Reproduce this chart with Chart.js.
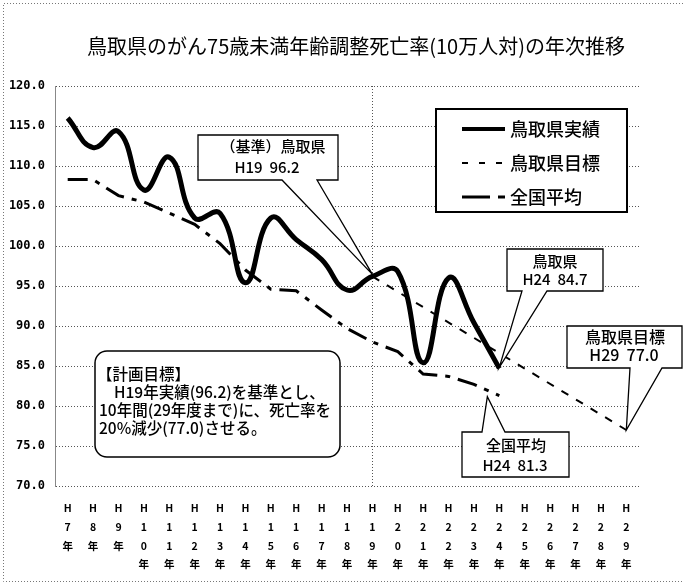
<!DOCTYPE html>
<html><head><meta charset="utf-8">
<script src="https://cdn.jsdelivr.net/npm/chart.js@4"></script>
<style>html,body{margin:0;padding:0;background:#fff}#wrap{width:683px;height:587px;position:relative}</style>
</head><body><div id="wrap"><canvas id="c" width="683" height="587"></canvas></div>
<script>
// ---- data ----
const yearNums = [7,8,9,10,11,12,13,14,15,16,17,18,19,20,21,22,23,24,25,26,27,28,29];
const actual   = [116.0,112.3,114.3,107.0,111.1,103.5,104.1,95.4,103.5,100.8,98.3,94.5,96.2,96.8,85.4,96.0,90.4,84.7,null,null,null,null,null];
const target   = [null,null,null,null,null,null,null,null,null,null,null,null,96.2,null,null,null,null,null,null,null,null,null,77.0];
const national = [108.3,108.3,106.3,105.5,104.1,102.7,100.3,97.0,94.6,94.4,92.0,89.7,88.0,86.8,84.0,83.7,82.7,81.3,null,null,null,null,null];
const yTicks = [70,75,80,85,90,95,100,105,110,115,120];
const title = '鳥取県のがん75歳未満年齢調整死亡率(10万人対)の年次推移';
const seriesNames = ['鳥取県実績','鳥取県目標','全国平均'];

const labels = yearNums.map(n => ['H', ...String(n).split(''), '年']);
const JP = '"Noto Sans CJK JP", "Noto Sans", sans-serif';

function calloutPath(ctx, b, side, b1, b2, tip) {
  const x0=b.x, y0=b.y, x1=b.x+b.w, y1=b.y+b.h;
  ctx.beginPath();
  if (side === 'bottom') {
    ctx.moveTo(x0,y0); ctx.lineTo(x1,y0); ctx.lineTo(x1,y1);
    ctx.lineTo(b2,y1); ctx.lineTo(tip.x,tip.y); ctx.lineTo(b1,y1); ctx.lineTo(x0,y1);
  } else {
    ctx.moveTo(x0,y0); ctx.lineTo(b1,y0); ctx.lineTo(tip.x,tip.y); ctx.lineTo(b2,y0);
    ctx.lineTo(x1,y0); ctx.lineTo(x1,y1); ctx.lineTo(x0,y1);
  }
  ctx.closePath();
  ctx.fillStyle = '#fff'; ctx.fill();
  ctx.strokeStyle = '#000'; ctx.lineWidth = 1.3; ctx.setLineDash([]); ctx.stroke();
}
function texts(ctx, items, font, align) {
  ctx.fillStyle = '#000'; ctx.font = font; ctx.textAlign = align || 'center'; ctx.textBaseline = 'middle';
  items.forEach(t => ctx.fillText(t[0], t[1], t[2]));
}

const deco = {
  id: 'deco',
  afterDraw(chart) {
    const ctx = chart.ctx, xs = chart.scales.x, ys = chart.scales.y;
    ctx.save();
    // outer border
    ctx.strokeStyle = '#777'; ctx.lineWidth = 1; ctx.setLineDash([1,2]);
    ctx.beginPath(); ctx.moveTo(683,3.5); ctx.lineTo(3.5,3.5); ctx.lineTo(3.5,581.5); ctx.lineTo(683,581.5); ctx.stroke();
    ctx.setLineDash([]);
    // title
    texts(ctx, [[title, 356, 46]], '20px ' + JP);

    // legend
    ctx.fillStyle = '#fff'; ctx.fillRect(436,109,191,103);
    ctx.strokeStyle = '#000'; ctx.lineWidth = 2; ctx.strokeRect(436,109,191,103);
    ctx.lineWidth = 4; ctx.beginPath(); ctx.moveTo(462,129); ctx.lineTo(505,129); ctx.stroke();
    ctx.lineWidth = 2; ctx.setLineDash([6,11]); ctx.beginPath(); ctx.moveTo(462,163); ctx.lineTo(505,163); ctx.stroke();
    ctx.lineWidth = 3; ctx.setLineDash([28,8,7,8]); ctx.beginPath(); ctx.moveTo(462,197); ctx.lineTo(505,197); ctx.stroke();
    ctx.setLineDash([]);
    texts(ctx, [[seriesNames[0],510,129],[seriesNames[1],510,163],[seriesNames[2],510,197]], '500 18px ' + JP, 'left');

    // callout H19 base
    const p19 = {x: xs.getPixelForValue(12), y: ys.getPixelForValue(actual[12]) - 2};
    calloutPath(ctx, {x:198,y:135,w:140,h:45}, 'bottom', 282, 317, p19);
    texts(ctx, [['（基準）鳥取県',273,146],['H19  96.2',267,167]], '500 15px ' + JP);

    // callout H24 actual
    const p24 = {x: xs.getPixelForValue(17), y: ys.getPixelForValue(actual[17]) - 1};
    calloutPath(ctx, {x:507,y:249,w:96,h:42}, 'bottom', 522, 547, p24);
    texts(ctx, [['鳥取県',555,261],['H24  84.7',555,279]], '500 15px ' + JP);

    // callout H29 target
    const p29 = {x: xs.getPixelForValue(22), y: ys.getPixelForValue(target[22])};
    calloutPath(ctx, {x:567,y:326,w:115,h:42}, 'bottom', 630, 662, p29);
    texts(ctx, [['鳥取県目標',625,337],['H29  77.0',624,355]], '500 16px ' + JP);

    // callout national H24
    const pn = {x: xs.getPixelForValue(17) - 12, y: ys.getPixelForValue(national[17]) + 1};
    calloutPath(ctx, {x:462,y:432,w:107,h:45}, 'top', 482, 505, pn);
    texts(ctx, [['全国平均',516,445],['H24  81.3',515,465]], '500 15px ' + JP);

    // plan box
    ctx.beginPath(); ctx.roundRect(95,351,245,106,12);
    ctx.fillStyle = '#fff'; ctx.fill(); ctx.strokeStyle = '#000'; ctx.lineWidth = 1.5; ctx.stroke();
    texts(ctx, [['【計画目標】',97,374],['H19年実績(96.2)を基準とし、',114,392],
                ['10年間(29年度まで)に、死亡率を',99,410],['20%減少(77.0)させる。',99,428]], '500 15.5px ' + JP, 'left');
    ctx.restore();
  }
};

new Chart(document.getElementById('c'), {
  type: 'line',
  data: {
    labels: labels,
    datasets: [
      {label: seriesNames[0], data: actual, borderColor:'#000', borderWidth:5, tension:0.45, pointRadius:0, fill:false},
      {label: seriesNames[1], data: target, borderColor:'#000', borderWidth:2, borderDash:[8,9], spanGaps:true, tension:0, pointRadius:0, fill:false},
      {label: seriesNames[2], data: national, borderColor:'#000', borderWidth:3, borderDash:[20,8,5,8], tension:0, pointRadius:0, fill:false}
    ]
  },
  options: {
    responsive:false, animation:false, devicePixelRatio:1,
    layout: {padding: {top:86, right:44, bottom:0, left:0}},
    plugins: {legend:{display:false}, title:{display:false}, tooltip:{enabled:false}},
    scales: {
      x: {
        type:'category', offset:true,
        grid: {offset:false, drawTicks:false, color: c => c.index === 12 ? '#555' : 'rgba(0,0,0,0)', lineWidth:1},
        border: {display:false, dash:[1,2]},
        ticks: {autoSkip:false, maxRotation:0, minRotation:0, padding:13, color:'#000',
                font:{family:JP, size:10.5, weight:'bold', lineHeight:1.78}},
        afterFit(s){ s.height = 101; }
      },
      y: {
        min:70, max:120,
        afterBuildTicks(s){ s.ticks = yTicks.map(v => ({value:v})); },
        grid: {drawTicks:false, color:'#555', lineWidth:1},
        border: {display:true, color:'#888', width:1, dash:[1,2]},
        ticks: {padding:10, color:'#000', callback: v => Number(v).toFixed(1),
                font:{family:'"DejaVu Sans Mono", monospace', size:12, weight:'bold'}},
        afterFit(s){ s.width = 55; }
      }
    }
  },
  plugins: [deco]
});
</script></body></html>
